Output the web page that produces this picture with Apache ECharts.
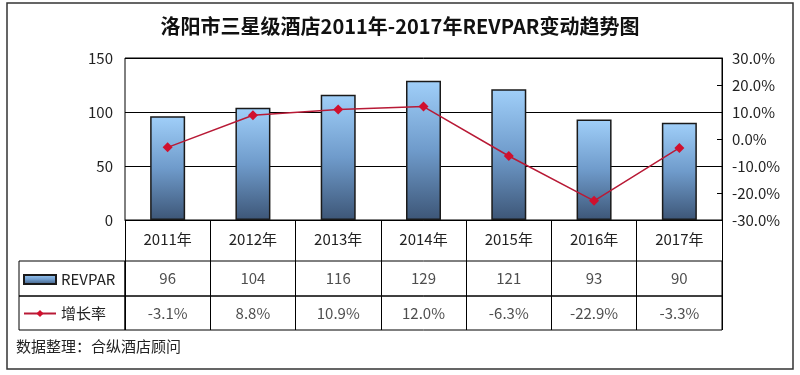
<!DOCTYPE html>
<html><head><meta charset="utf-8">
<script src="https://cdn.jsdelivr.net/npm/echarts@6/dist/echarts.min.js"></script>
<style>html,body{margin:0;padding:0;background:#fff}#c{width:800px;height:375px}</style>
</head><body><div id="c"></div>
<script>
var categories = ['2011年','2012年','2013年','2014年','2015年','2016年','2017年'];
var revpar = [96,104,116,129,121,93,90];
var growth = [-3.1,8.8,10.9,12.0,-6.3,-22.9,-3.3];
var leftTicks = [0,50,100,150];
var rightTicks = [-30,-20,-10,0,10,20,30];

var FONT = '"Noto Sans CJK SC", "Noto Sans", sans-serif';
var chart = echarts.init(document.getElementById('c'), null, {renderer:'canvas'});

var rowY = 0.5;
var revRow = revpar.map(function(v,i){return [i,rowY,v];});
var grRow = growth.map(function(v,i){return [i,rowY,v];});

function rowX(gi){
  return {type:'category', gridIndex:gi, data:categories, boundaryGap:true,
    axisLine:{show:false}, axisTick:{show:false}, axisLabel:{show:false},
    splitLine:{show:true, interval:0, lineStyle:{color:'#000', width:1}}};
}
function rowYAxis(gi){ return {type:'value', gridIndex:gi, min:0, max:1, show:false}; }
function rowSeries(gi, data, fmt){
  return {type:'scatter', xAxisIndex:gi, yAxisIndex:gi+1, data:data, symbolSize:1,
    itemStyle:{color:'rgba(0,0,0,0)'}, silent:true,
    label:{show:true, position:'inside', color:'#222', fontSize:15, fontFamily:FONT, formatter:fmt}};
}

chart.setOption({
  animation:false,
  textStyle:{fontFamily:FONT},
  title:{text:'洛阳市三星级酒店2011年-2017年REVPAR变动趋势图', left:'center', top:11,
    textStyle:{fontSize:20, fontWeight:'bold', color:'#111', fontFamily:FONT}},
  legend:[
    {data:[{name:'REVPAR', icon:'rect'}], orient:'vertical', left:23, top:272, padding:0, itemWidth:32, itemHeight:9,
      textStyle:{fontSize:15, color:'#222', fontFamily:FONT}},
    {data:['增长率'], orient:'vertical', left:23, top:306, padding:0, itemWidth:32, itemHeight:9,
      textStyle:{fontSize:15, color:'#222', fontFamily:FONT}}
  ],
  grid:[
    {left:125, top:58, width:597, height:162, show:true, borderColor:'#000', borderWidth:1, containLabel:false},
    {left:125, top:261, width:597, height:35, show:true, borderColor:'#000', borderWidth:1},
    {left:125, top:296, width:597, height:34, show:true, borderColor:'#000', borderWidth:1}
  ],
  xAxis:[
    {type:'category', gridIndex:0, data:categories, boundaryGap:true,
      axisLine:{show:true, lineStyle:{color:'#000', width:1}},
      axisTick:{show:true, interval:0, length:41, lineStyle:{color:'#000', width:1}},
      axisLabel:{margin:12, fontSize:15, color:'#222', fontFamily:FONT}},
    rowX(1), rowX(2)
  ],
  yAxis:[
    {type:'value', gridIndex:0, min:0, max:150, interval:50,
      axisLine:{show:false}, axisTick:{show:false},
      axisLabel:{fontSize:15, color:'#222', margin:12, fontFamily:FONT},
      splitLine:{show:true, lineStyle:{color:'#000', width:1}}},
    {type:'value', gridIndex:0, position:'right', min:-30, max:30, interval:10,
      axisLine:{show:true, lineStyle:{color:'#000', width:1}},
      axisTick:{show:true, inside:true, length:5, lineStyle:{color:'#000'}},
      axisLabel:{fontSize:15, color:'#222', margin:10, fontFamily:FONT,
        formatter:function(v){return v.toFixed(1)+'%';}},
      splitLine:{show:false}},
    rowYAxis(1), rowYAxis(2)
  ],
  series:[
    {name:'REVPAR', type:'bar', xAxisIndex:0, yAxisIndex:0, data:revpar, barWidth:35,
      itemStyle:{borderColor:'#1a1a1a', borderWidth:1.5,
        color:new echarts.graphic.LinearGradient(0,0,0,1,[
          {offset:0, color:'#a0cff9'},{offset:0.5, color:'#6f9bcb'},{offset:1, color:'#3d5677'}])}},
    {name:'增长率', type:'line', xAxisIndex:0, yAxisIndex:1, data:growth,
      symbol:'diamond', symbolSize:10, lineStyle:{color:'#b81a36', width:1.5},
      itemStyle:{color:'#d0102e'}},
    rowSeries(1, revRow, function(p){return String(p.value[2]);}),
    rowSeries(2, grRow, function(p){return p.value[2].toFixed(1)+'%';})
  ],
  graphic:[
    {type:'rect', shape:{x:7, y:3, width:786, height:366}, style:{fill:'none', stroke:'#333', lineWidth:1.5}, silent:true, z:-1},
    {type:'rect', shape:{x:19, y:261, width:106, height:35}, style:{fill:'none', stroke:'#000', lineWidth:1}, silent:true},
    {type:'rect', shape:{x:19, y:296, width:106, height:34}, style:{fill:'none', stroke:'#000', lineWidth:1}, silent:true},
    {type:'text', left:16, top:339, style:{text:'数据整理：合纵酒店顾问', fill:'#222', font:'15px "Noto Sans CJK SC", sans-serif'}, silent:true}
  ]
});
</script></body></html>
